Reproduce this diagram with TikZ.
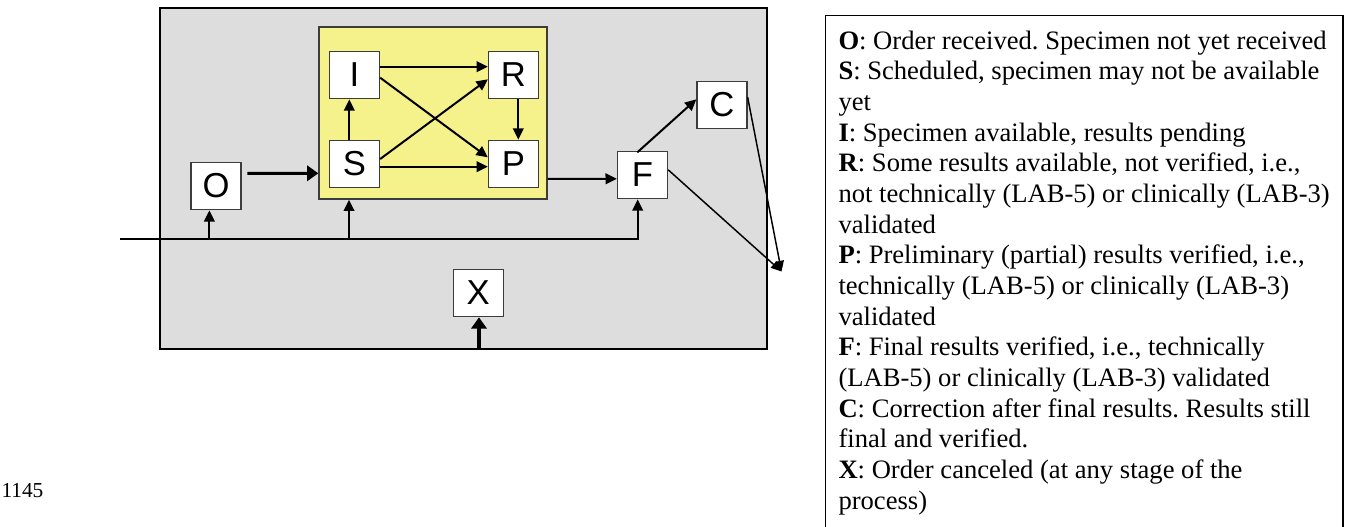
\documentclass[tikz,border=0pt]{standalone}
\usepackage{fontspec}
\setmainfont{Liberation Serif}
\newfontfamily\boxfont{Liberation Sans}
\usetikzlibrary{arrows.meta,calc}
\frenchspacing

\definecolor{lifegray}{RGB}{221,221,221}
\definecolor{activeyellow}{RGB}{245,242,140}
\definecolor{edgegray}{RGB}{60,60,60}

\tikzset{every picture/.style={line width=0.75pt}}
\tikzset{
  statebox/.style={draw=edgegray,line width=1pt,fill=white,inner sep=0pt,
    minimum width=37.5pt,minimum height=35.5pt,font=\boxfont\fontsize{26}{30}\selectfont},
  flow/.style={line width=1.5pt,-{Triangle[length=8.5pt,width=8pt]}},
  thickflow/.style={line width=2.3pt,-{Triangle[length=8.5pt,width=11.5pt]}},
  sinkflow/.style={line width=1.1pt,-{Triangle[length=8pt,width=6.5pt]}},
}

\begin{document}
\begin{tikzpicture}[x=0.75pt,y=0.75pt,yscale=-1,xscale=1]
\useasboundingbox (0,0) rectangle (1346,527);

%Shape: Rectangle (order life cycle)
\node [draw=black,line width=1pt,fill=lifegray,inner sep=0pt,minimum width=455.25pt,minimum height=255.75pt] (lifecycle) at (463.5,178.5) {};
%Shape: Rectangle (in progress)
\node [draw=edgegray,line width=1pt,fill=activeyellow,inner sep=0pt,minimum width=171pt,minimum height=129pt] (active) at (433,113) {};

% State Nodes
\node [statebox] (I) at (354.5,75) {I};
\node [statebox] (S) at (354.5,164) {S};
\node [statebox] (R) at (513.5,75) {R};
\node [statebox] (P) at (513.5,164) {P};
\node [statebox] (O) at (216,186) {O};
\node [statebox] (F) at (642.5,175) {F};
\node [statebox] (C) at (722,105) {C};
\node [statebox] (X) at (478.3,293) {X};

\coordinate (busin) at (120,239.3);
\coordinate (sink) at (781.5,271.5);
\coordinate (xin) at (479,348);
\coordinate (Oin) at ($(O.south)+(-6.6,0)$);
\coordinate (activein) at ($(active.south)+(-84,0)$);
\coordinate (Fin) at ($(F.south)+(-4.8,0)$);

%Straight Lines (inside the yellow box)
\draw [flow] ($(I.east)+(0,-8.3)$) -- ($(R.west)+(0,-8.3)$);
\draw [flow] ($(I.east)+(0,2.7)$) -- ($(P.west)+(0,-6.7)$);
\draw [flow] ($(S.east)+(0,-5)$) -- ($(R.west)+(0,4.3)$);
\draw [flow] ($(S.east)+(0,2.7)$) -- ($(P.west)+(0,2.7)$);
\draw [flow] ($(S.north)+(-5.2,0)$) -- ($(I.south)+(-5.2,0)$);
\draw [flow] ($(R.south)+(4.8,0)$) -- ($(P.north)+(4.8,0)$);

%Straight Lines (order to progress to final)
\draw [thickflow] ($(O.east)+(5.7,-12.7)$) -- ($(active.west)+(0,60.3)$);
\draw [flow] ($(active.east)+(0,66)$) -- ($(F.west)+(0,3.8)$);
\draw [flow] ($(F.north)+(-5.2,1.7)$) -- ($(C.west)+(0,-5.7)$);
\draw [sinkflow] ($(F.east)+(0,-5.2)$) -- (sink);
\draw [sinkflow] ($(C.east)+(0,-7.7)$) -- (sink);

%Straight Lines (incoming bus)
\draw [flow] (busin) -| (Fin);
\draw [flow] (Oin |- busin) -- (Oin);
\draw [flow] (activein |- busin) -- (activein);
\draw [thickflow] (xin) -- (xin |- X.south);

%Shape: Rectangle (legend)
\draw [line width=1.1pt] (1343,540) -- (1343,15.7) -- (825.7,15.7) -- (825.7,540);

% Text Node
\node [anchor=north west,inner sep=0pt,align=left,font=\fontsize{19.95}{23}\selectfont] (legend) at (838,30.2) {\textbf{O}: Order received. Specimen not yet received\\
\textbf{S}: Scheduled, specimen may not be available\\
yet\\
\textbf{I}: Specimen available, results pending\\
\textbf{R}: Some results available, not verified, i.e.,\\
not technically (LAB-5) or clinically (LAB-3)\\
validated\\
\textbf{P}: Preliminary (partial) results verified, i.e.,\\
technically (LAB-5) or clinically (LAB-3)\\
validated\\
\textbf{F}: Final results verified, i.e., technically\\
(LAB-5) or clinically (LAB-3) validated\\
\textbf{C}: Correction after final results. Results still\\
final and verified.\\
\textbf{X}: Order canceled (at any stage of the\\
process)};
% Text Node
\node [anchor=base west,inner sep=0pt,font=\fontsize{16}{19}\selectfont] (lineno) at (1,497) {1145};
\end{tikzpicture}
\end{document}
